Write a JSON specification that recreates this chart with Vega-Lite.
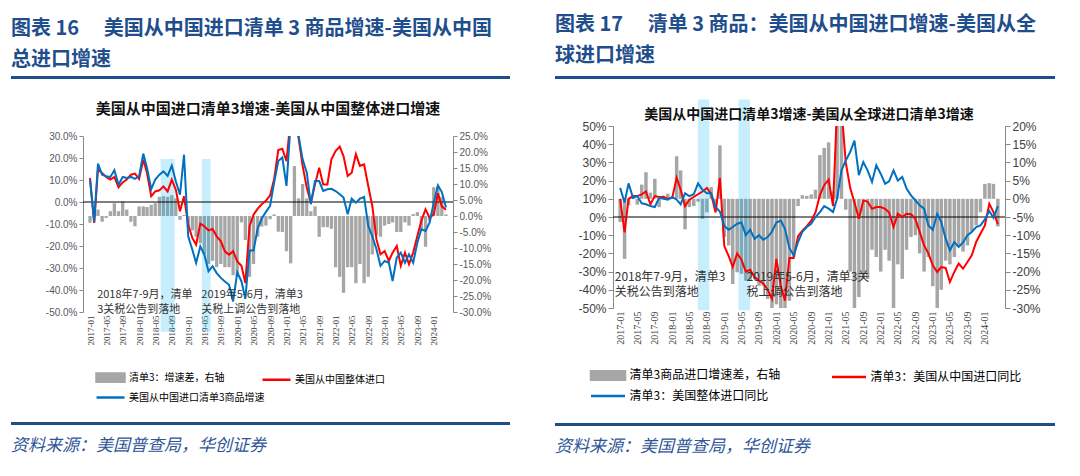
{
"$schema":"https://vega.github.io/schema/vega-lite/v6.json",
"background":"white",
"padding":{"left":11,"top":14,"right":0,"bottom":0},
"config":{"view":{"stroke":null},"font":"Noto Sans CJK SC","axis":{"grid":false,"labelOverlap":false,"labelFlush":false}},
"datasets":{
"L":[
{"month":"2017-01-16","diff":-2.1,"total":10.9,"list3":10.2},
{"month":"2017-02-16","diff":2.5,"total":-9.5,"list3":-9.0},
{"month":"2017-03-16","diff":2.0,"total":14.7,"list3":17.4},
{"month":"2017-04-16","diff":-1.8,"total":13.2,"list3":12.4},
{"month":"2017-05-16","diff":-0.6,"total":11.4,"list3":11.7},
{"month":"2017-06-16","diff":1.5,"total":10.2,"list3":11.4},
{"month":"2017-07-16","diff":4.0,"total":11.4,"list3":14.4},
{"month":"2017-08-16","diff":1.5,"total":6.7,"list3":7.9},
{"month":"2017-09-16","diff":4.5,"total":8.9,"list3":11.4},
{"month":"2017-10-16","diff":2.0,"total":10.2,"list3":10.9},
{"month":"2017-11-16","diff":-1.8,"total":12.4,"list3":11.4},
{"month":"2017-12-16","diff":-3.2,"total":12.9,"list3":10.5},
{"month":"2018-01-16","diff":3.0,"total":10.5,"list3":11.7},
{"month":"2018-02-16","diff":3.0,"total":19.2,"list3":22.0},
{"month":"2018-03-16","diff":2.8,"total":13.2,"list3":15.5},
{"month":"2018-04-16","diff":3.5,"total":2.6,"list3":5.9},
{"month":"2018-05-16","diff":4.0,"total":4.8,"list3":10.2},
{"month":"2018-06-16","diff":6.0,"total":5.3,"list3":12.4},
{"month":"2018-07-16","diff":6.2,"total":7.1,"list3":13.9},
{"month":"2018-08-16","diff":6.0,"total":4.8,"list3":11.9},
{"month":"2018-09-16","diff":6.5,"total":10.2,"list3":16.5},
{"month":"2018-10-16","diff":5.5,"total":5.6,"list3":9.4},
{"month":"2018-11-16","diff":-1.2,"total":-4.2,"list3":3.3},
{"month":"2018-12-16","diff":0.3,"total":2.6,"list3":21.5},
{"month":"2019-01-16","diff":-3.3,"total":-10.3,"list3":-15.6},
{"month":"2019-02-16","diff":-4.5,"total":-16.4,"list3":-21.7},
{"month":"2019-03-16","diff":-6.5,"total":-19.4,"list3":-27.7},
{"month":"2019-04-16","diff":-8.5,"total":-9.8,"list3":-20.2},
{"month":"2019-05-16","diff":-12,"total":-11,"list3":-23.9},
{"month":"2019-06-16","diff":-15,"total":-12.9,"list3":-31.5},
{"month":"2019-07-16","diff":-14,"total":-12.3,"list3":-29.2},
{"month":"2019-08-16","diff":-16,"total":-15.6,"list3":-32.3},
{"month":"2019-09-16","diff":-15,"total":-17.9,"list3":-34.5},
{"month":"2019-10-16","diff":-16,"total":-22.4,"list3":-36.1},
{"month":"2019-11-16","diff":-16,"total":-24,"list3":-37.6},
{"month":"2019-12-16","diff":-18.5,"total":-22.4,"list3":-45.2},
{"month":"2020-01-16","diff":-19,"total":-27,"list3":-32},
{"month":"2020-02-16","diff":-2,"total":-29,"list3":-36},
{"month":"2020-03-16","diff":-7.5,"total":-36.8,"list3":-44},
{"month":"2020-04-16","diff":-19,"total":-11,"list3":-22},
{"month":"2020-05-16","diff":-15,"total":-5.8,"list3":-22},
{"month":"2020-06-16","diff":-6.5,"total":-3,"list3":-12},
{"month":"2020-07-16","diff":-3.3,"total":-1,"list3":-7.5},
{"month":"2020-08-16","diff":-3,"total":0.5,"list3":-4.5},
{"month":"2020-09-16","diff":-1,"total":3,"list3":-1.8},
{"month":"2020-10-16","diff":0.5,"total":10.3,"list3":8.8},
{"month":"2020-11-16","diff":-4.9,"total":23.6,"list3":18.6},
{"month":"2020-12-16","diff":-5,"total":24.2,"list3":20.2},
{"month":"2021-01-16","diff":-11,"total":18.6,"list3":7.3},
{"month":"2021-02-16","diff":-14.8,"total":38,"list3":36},
{"month":"2021-03-16","diff":15.6,"total":40,"list3":40},
{"month":"2021-04-16","diff":5.5,"total":29,"list3":30},
{"month":"2021-05-16","diff":10,"total":16.4,"list3":19.4},
{"month":"2021-06-16","diff":5.5,"total":6.5,"list3":13.3},
{"month":"2021-07-16","diff":1.5,"total":-0.3,"list3":-1},
{"month":"2021-08-16","diff":3,"total":8,"list3":9.5},
{"month":"2021-09-16","diff":-6.5,"total":15.6,"list3":9.5},
{"month":"2021-10-16","diff":-3.5,"total":8,"list3":5},
{"month":"2021-11-16","diff":-3.5,"total":8,"list3":5.8},
{"month":"2021-12-16","diff":-4,"total":19.4,"list3":6},
{"month":"2022-01-16","diff":-16,"total":23.2,"list3":5},
{"month":"2022-02-16","diff":-19,"total":25.2,"list3":3.5},
{"month":"2022-03-16","diff":-24,"total":20.9,"list3":2},
{"month":"2022-04-16","diff":-16,"total":11.8,"list3":-5.6},
{"month":"2022-05-16","diff":-16,"total":13.3,"list3":1.5},
{"month":"2022-06-16","diff":-21,"total":21.7,"list3":-0.3},
{"month":"2022-07-16","diff":-15,"total":16.4,"list3":1.5},
{"month":"2022-08-16","diff":-21,"total":17.1,"list3":2.3},
{"month":"2022-09-16","diff":-19,"total":7.3,"list3":-10.9},
{"month":"2022-10-16","diff":-12,"total":-1.8,"list3":-15.5},
{"month":"2022-11-16","diff":-6,"total":-17,"list3":-21.5},
{"month":"2022-12-16","diff":-6.5,"total":-23.8,"list3":-29},
{"month":"2023-01-16","diff":-3,"total":-22.3,"list3":-26.8},
{"month":"2023-02-16","diff":-2.5,"total":-26.8,"list3":-27.6},
{"month":"2023-03-16","diff":-2,"total":-23,"list3":-35.9},
{"month":"2023-04-16","diff":-5,"total":-20,"list3":-25.3},
{"month":"2023-05-16","diff":-5,"total":-29,"list3":-23},
{"month":"2023-06-16","diff":-2,"total":-23,"list3":-27.6},
{"month":"2023-07-16","diff":-3,"total":-28.3,"list3":-23.8},
{"month":"2023-08-16","diff":0.6,"total":-23,"list3":-27.6},
{"month":"2023-09-16","diff":1.2,"total":-15.5,"list3":-18.5},
{"month":"2023-10-16","diff":-4.5,"total":-8.6,"list3":-12.4},
{"month":"2023-11-16","diff":-9.6,"total":-3.3,"list3":-13.2},
{"month":"2023-12-16","diff":-1.5,"total":-7.1,"list3":-9.4},
{"month":"2024-01-16","diff":9,"total":-5.6,"list3":-0.3},
{"month":"2024-02-16","diff":9.2,"total":4,"list3":7.5},
{"month":"2024-03-16","diff":6,"total":-2,"list3":4.5},
{"month":"2024-04-16","diff":0.5,"total":-3.5,"list3":-2.5}
],
"R":[
{"month":"2017-01-16","diff":-6.4,"china":10,"world":16},
{"month":"2017-02-16","diff":-16.5,"china":-8.5,"world":8},
{"month":"2017-03-16","diff":-1.8,"china":10,"world":18.5},
{"month":"2017-04-16","diff":0.9,"china":11.5,"world":10.5},
{"month":"2017-05-16","diff":-1.6,"china":11.5,"world":11.5},
{"month":"2017-06-16","diff":3.9,"china":12.4,"world":7.5},
{"month":"2017-07-16","diff":7.3,"china":14,"world":7},
{"month":"2017-08-16","diff":1.7,"china":7,"world":6},
{"month":"2017-09-16","diff":5.5,"china":11.5,"world":5.5},
{"month":"2017-10-16","diff":-2.3,"china":11,"world":10.5},
{"month":"2017-11-16","diff":0.9,"china":11,"world":10},
{"month":"2017-12-16","diff":1.4,"china":10,"world":9.5},
{"month":"2018-01-16","diff":0.3,"china":10.5,"world":11},
{"month":"2018-02-16","diff":11.7,"china":21.6,"world":9.5},
{"month":"2018-03-16","diff":7.8,"china":15,"world":7},
{"month":"2018-04-16","diff":-8.4,"china":6,"world":13},
{"month":"2018-05-16","diff":-2.3,"china":9.5,"world":11.5},
{"month":"2018-06-16","diff":-2,"china":11,"world":12.5},
{"month":"2018-07-16","diff":-0.8,"china":12.5,"world":18.5},
{"month":"2018-08-16","diff":-5.5,"china":14,"world":15},
{"month":"2018-09-16","diff":-3.7,"china":16,"world":13},
{"month":"2018-10-16","diff":3.2,"china":12.5,"world":13},
{"month":"2018-11-16","diff":-2.3,"china":2.5,"world":5.5},
{"month":"2018-12-16","diff":14.7,"china":21.5,"world":3},
{"month":"2019-01-16","diff":-10.5,"china":-16,"world":-5},
{"month":"2019-02-16","diff":-12.8,"china":-21.5,"world":-7},
{"month":"2019-03-16","diff":-23.4,"china":-27.5,"world":-5.5},
{"month":"2019-04-16","diff":-20.2,"china":-20,"world":-3.7},
{"month":"2019-05-16","diff":-20.6,"china":-23.5,"world":-3},
{"month":"2019-06-16","diff":-22.5,"china":-30,"world":-10},
{"month":"2019-07-16","diff":-22.5,"china":-29,"world":-7},
{"month":"2019-08-16","diff":-22,"china":-33,"world":-12},
{"month":"2019-09-16","diff":-23.9,"china":-35,"world":-10},
{"month":"2019-10-16","diff":-23.9,"china":-36.5,"world":-12.5},
{"month":"2019-11-16","diff":-27.5,"china":-40,"world":-11},
{"month":"2019-12-16","diff":-31,"china":-45,"world":-8},
{"month":"2020-01-16","diff":-29,"china":-23,"world":-3},
{"month":"2020-02-16","diff":-31,"china":-38,"world":-2},
{"month":"2020-03-16","diff":-31,"china":-46,"world":-6.5},
{"month":"2020-04-16","diff":-28,"china":-22.5,"world":-17},
{"month":"2020-05-16","diff":-16,"china":-22.5,"world":-21},
{"month":"2020-06-16","diff":-2,"china":-10.5,"world":-13.7},
{"month":"2020-07-16","diff":1,"china":-7.5,"world":-8.2},
{"month":"2020-08-16","diff":0.8,"china":-5,"world":-5.5},
{"month":"2020-09-16","diff":1.2,"china":-2,"world":-3.7},
{"month":"2020-10-16","diff":2.5,"china":2.5,"world":0},
{"month":"2020-11-16","diff":12,"china":12,"world":2.7},
{"month":"2020-12-16","diff":14,"china":17.5,"world":6},
{"month":"2021-01-16","diff":15.5,"china":20.5,"world":4.6},
{"month":"2021-02-16","diff":2,"china":6,"world":2.7},
{"month":"2021-03-16","diff":40,"china":60,"world":10},
{"month":"2021-04-16","diff":35,"china":60,"world":25.6},
{"month":"2021-05-16","diff":-3,"china":30,"world":31},
{"month":"2021-06-16","diff":-20,"china":16,"world":35.7},
{"month":"2021-07-16","diff":-34,"china":8,"world":42},
{"month":"2021-08-16","diff":-27,"china":-1,"world":23},
{"month":"2021-09-16","diff":-22,"china":9,"world":30.2},
{"month":"2021-10-16","diff":-22,"china":8.5,"world":25.6},
{"month":"2021-11-16","diff":-14,"china":4.5,"world":19.2},
{"month":"2021-12-16","diff":-16,"china":5.5,"world":28.4},
{"month":"2022-01-16","diff":-20,"china":5.5,"world":23.8},
{"month":"2022-02-16","diff":-14,"china":4.5,"world":18.3},
{"month":"2022-03-16","diff":-17,"china":2.5,"world":19.6},
{"month":"2022-04-16","diff":-31,"china":-5.5,"world":25.6},
{"month":"2022-05-16","diff":-18,"china":1.8,"world":20},
{"month":"2022-06-16","diff":-22,"china":0,"world":22},
{"month":"2022-07-16","diff":-14,"china":1.8,"world":15.6},
{"month":"2022-08-16","diff":-10.5,"china":1.5,"world":11.9},
{"month":"2022-09-16","diff":-10,"china":-1,"world":9.2},
{"month":"2022-10-16","diff":-15,"china":-8.2,"world":6.4},
{"month":"2022-11-16","diff":-20,"china":-15.6,"world":4.6},
{"month":"2022-12-16","diff":-16,"china":-20,"world":-4.6},
{"month":"2023-01-16","diff":-24,"china":-26.6,"world":-7},
{"month":"2023-02-16","diff":-31,"china":-30.2,"world":1.8},
{"month":"2023-03-16","diff":-25,"china":-27.5,"world":-2.7},
{"month":"2023-04-16","diff":-17,"china":-28,"world":-11.9},
{"month":"2023-05-16","diff":-18,"china":-35.7,"world":-18.3},
{"month":"2023-06-16","diff":-16,"china":-30.2,"world":-13.7},
{"month":"2023-07-16","diff":-13,"china":-25.6,"world":-16.5},
{"month":"2023-08-16","diff":-14.5,"china":-28.4,"world":-14},
{"month":"2023-09-16","diff":-12.8,"china":-24.7,"world":-10},
{"month":"2023-10-16","diff":-9,"china":-21,"world":-8.2},
{"month":"2023-11-16","diff":-7.3,"china":-13.7,"world":-5.5},
{"month":"2023-12-16","diff":-3.7,"china":-9.2,"world":-4.6},
{"month":"2024-01-16","diff":4.1,"china":-4.6,"world":-1.3},
{"month":"2024-02-16","diff":4.3,"china":7.3,"world":3.3},
{"month":"2024-03-16","diff":4.1,"china":2.7,"world":-0.4},
{"month":"2024-04-16","diff":-7.6,"china":-4,"world":6}
],
"bandsL":[{"start":"2018-06-25","end":"2018-10-08","top":19.5,"bottom":-59},{"start":"2019-04-28","end":"2019-07-02","top":19.5,"bottom":-59}],
"bandsR":[{"start":"2018-07-15","end":"2018-10-03","top":64.6,"bottom":-51.3},{"start":"2019-04-25","end":"2019-07-15","top":64.6,"bottom":-51.3}],
"annL":[{"pos":"2017-03-10","level":-42.1,"label":"2018年7-9月，清单"},{"pos":"2017-03-10","level":-49,"label":"3关税公告到落地"},{"pos":"2019-04-24","level":-42.1,"label":"2019年5-6月，清单3"},{"pos":"2019-04-24","level":-49,"label":"关税上调公告到落地"}],
"annR":[{"pos":"2016-12-09","level":-33,"label":"2018年7-9月，清单3"},{"pos":"2016-12-09","level":-41.2,"label":"关税公告到落地"},{"pos":"2019-06-21","level":-33,"label":"2019年5-6月，清单3关"},{"pos":"2019-06-21","level":-41.2,"label":"税上调公告到落地"}]
},
"hconcat":[
{
"vconcat":[
{"width":499,"height":12,"view":{"stroke":null,"fill":{"gradient":"linear","x1":0,"y1":0,"x2":0,"y2":1,"stops":[{"offset":0,"color":"#1f4e8c"},{"offset":0.25,"color":"#1f4e8c"},{"offset":0.251,"color":"#ffffff"},{"offset":1,"color":"#ffffff"}]}},"data":{"values":[{}]},"mark":{"type":"text"},"encoding":{"text":{"value":""}},
 "title":{"text":["图表 16　 美国从中国进口清单 3 商品增速-美国从中国","总进口增速"],"anchor":"start","font":"Noto Sans CJK SC","fontSize":20,"fontWeight":"bold","color":"#1f4e8c","lineHeight":31,"offset":6}},
{"hconcat":[
{"width":20,"height":1,"data":{"values":[{}]},"mark":{"type":"text"},"encoding":{"text":{"value":""}}},
{"width":370,"height":176,
 "title":{"text":"美国从中国进口清单3增速-美国从中国整体进口增速","frame":"group","anchor":"middle","font":"Noto Sans CJK SC","fontSize":15,"fontWeight":"bold","color":"#111111","offset":14},
 "data":{"name":"L"},
 "layer":[
  {"mark":{"type":"bar","width":3.3,"clip":true},
   "encoding":{
    "x":{"field":"month","type":"temporal","scale":{"type":"utc","domain":[{"year":2017,"month":1,"date":1,"utc":true},{"year":2024,"month":5,"date":1,"utc":true}]},
     "axis":{"title":null,"format":"%Y-%m","labelAngle":270,"labelFont":"Liberation Serif","labelFontSize":9,"labelColor":"#404040","ticks":false,"domain":false,"labelPadding":3,"labelFlush":false,"labelOverlap":false,"labelBound":false,
     "values":[{"year":2017,"month":1,"date":16,"utc":true},{"year":2017,"month":5,"date":16,"utc":true},{"year":2017,"month":9,"date":16,"utc":true},{"year":2018,"month":1,"date":16,"utc":true},{"year":2018,"month":5,"date":16,"utc":true},{"year":2018,"month":9,"date":16,"utc":true},{"year":2019,"month":1,"date":16,"utc":true},{"year":2019,"month":5,"date":16,"utc":true},{"year":2019,"month":9,"date":16,"utc":true},{"year":2020,"month":1,"date":16,"utc":true},{"year":2020,"month":5,"date":16,"utc":true},{"year":2020,"month":9,"date":16,"utc":true},{"year":2021,"month":1,"date":16,"utc":true},{"year":2021,"month":5,"date":16,"utc":true},{"year":2021,"month":9,"date":16,"utc":true},{"year":2022,"month":1,"date":16,"utc":true},{"year":2022,"month":5,"date":16,"utc":true},{"year":2022,"month":9,"date":16,"utc":true},{"year":2023,"month":1,"date":16,"utc":true},{"year":2023,"month":5,"date":16,"utc":true},{"year":2023,"month":9,"date":16,"utc":true},{"year":2024,"month":1,"date":16,"utc":true}]}},
    "y":{"field":"diff","type":"quantitative","scale":{"domain":[-30,25],"nice":false},
      "axis":{"title":null,"orient":"right","values":[-30,-25,-20,-15,-10,-5,0,5,10,15,20,25],"labelExpr":"(datum.value < 0 ? '-' : '') + format(abs(datum.value), '.1f') + '%'","labelFont":"Liberation Sans","labelFontSize":10,"labelColor":"#595959","domainColor":"#898989","tickColor":"#898989","tickSize":4,"labelPadding":2,"labelOverlap":false}},
    "color":{"datum":"清单3：增速差，右轴","scale":{"domain":["清单3：增速差，右轴","美国从中国整体进口","美国从中国进口清单3商品增速"],"range":["#a6a6a6","#ff0000","#0070c0"]},
      "legend":{"title":null,"orient":"none","direction":"horizontal","legendX":19,"legendY":233,"padding":0,"columns":2,"columnPadding":-8,"rowPadding":2,"symbolType":"stroke","symbolSize":196,"symbolStrokeWidth":2.5,"labelFont":"Noto Sans CJK SC","labelFontSize":10,"labelColor":"#000000","labelOffset":10,"labelLimit":300,
       "encode":{"symbols":{"update":{
         "shape":{"signal":"datum.value === '清单3：增速差，右轴' ? 'M-2,-0.6H2V0.6H-2Z' : 'M-2,0H2'"},
         "fill":{"signal":"datum.value === '清单3：增速差，右轴' ? '#a6a6a6' : 'transparent'"},
         "stroke":{"signal":"datum.value === '清单3：增速差，右轴' ? 'transparent' : (datum.value === '美国从中国整体进口' ? '#ff0000' : '#0070c0')"},
         "strokeWidth":{"value":2.5},"opacity":{"value":1}}}}}}}},
  {"layer":[
   {"data":{"name":"bandsL"},"mark":{"type":"rect","color":"#00b0f0","opacity":0.22},
    "encoding":{"x":{"field":"start","type":"temporal","axis":null},"x2":{"field":"end"},
     "y":{"field":"top","type":"quantitative","scale":{"domain":[-50,30],"nice":false},"axis":null},"y2":{"field":"bottom"}}},
   {"data":{"values":[{}]},"mark":{"type":"rule","color":"#000000","strokeWidth":1},
    "encoding":{"y":{"datum":0,"type":"quantitative","axis":null}}},
   {"mark":{"type":"line","strokeWidth":2,"clip":true},
    "encoding":{"x":{"field":"month","type":"temporal","axis":null},
     "y":{"field":"total","type":"quantitative","scale":{"domain":[-50,30],"nice":false},
      "axis":{"title":null,"orient":"left","values":[-50,-40,-30,-20,-10,0,10,20,30],"labelExpr":"(datum.value < 0 ? '-' : '') + format(abs(datum.value), '.1f') + '%'","labelFont":"Liberation Sans","labelFontSize":10,"labelColor":"#595959","domainColor":"#898989","tickColor":"#898989","tickSize":4,"labelPadding":2,"minExtent":52,"labelOverlap":false}},
     "color":{"datum":"美国从中国整体进口"}}},
   {"mark":{"type":"line","strokeWidth":2,"clip":true},
    "encoding":{"x":{"field":"month","type":"temporal","axis":null},"y":{"field":"list3","type":"quantitative","axis":null},
     "color":{"datum":"美国从中国进口清单3商品增速"}}},
   {"data":{"name":"annL"},"mark":{"type":"text","align":"left","baseline":"middle","font":"Noto Sans CJK SC","fontSize":11,"color":"#333333"},
    "encoding":{"x":{"field":"pos","type":"temporal","axis":null},"y":{"field":"level","type":"quantitative","axis":null},"text":{"field":"label"}}}
  ],
  "resolve":{"axis":{"x":"independent","y":"independent"}}}
 ],
 "resolve":{"scale":{"y":"independent"},"axis":{"x":"independent","y":"independent"}}
}],"spacing":0,"resolve":{"scale":{"color":"independent"},"legend":{"color":"independent"}}},
{"width":499,"height":3,"view":{"fill":"#1f4e8c","stroke":null},"data":{"values":[{}]},"mark":{"type":"text"},"encoding":{"text":{"value":""}},
 "title":{"text":"资料来源：美国普查局，华创证券","orient":"bottom","anchor":"start","font":"Noto Sans CJK SC","fontSize":17,"fontStyle":"italic","fontWeight":"normal","color":"#2f5597","offset":9}}
],
"spacing":14,
"resolve":{"scale":{"color":"independent"},"legend":{"color":"independent"}}
},
{
"vconcat":[
{"width":500,"height":3,"view":{"fill":"#1f4e8c","stroke":null},"data":{"values":[{}]},"mark":{"type":"text"},"encoding":{"text":{"value":""}},
 "title":{"text":["图表 17　 清单 3 商品：美国从中国进口增速-美国从全","球进口增速"],"anchor":"start","font":"Noto Sans CJK SC","fontSize":20,"fontWeight":"bold","color":"#1f4e8c","lineHeight":31,"offset":6}},
{"hconcat":[
{"width":20,"height":1,"data":{"values":[{}]},"mark":{"type":"text"},"encoding":{"text":{"value":""}}},
{"width":392,"height":182,
 "title":{"text":"美国从中国进口清单3增速-美国从全球进口清单3增速","frame":"group","anchor":"middle","font":"Noto Sans CJK SC","fontSize":14,"fontWeight":"bold","color":"#111111","offset":-23},
 "data":{"name":"R"},
 "layer":[
  {"mark":{"type":"bar","width":3.5,"clip":true},
   "encoding":{
    "x":{"field":"month","type":"temporal","scale":{"type":"utc","domain":[{"year":2017,"month":1,"date":1,"utc":true},{"year":2024,"month":5,"date":1,"utc":true}]},
     "axis":{"title":null,"format":"%Y-%m","labelAngle":270,"labelFont":"Liberation Serif","labelFontSize":10,"labelColor":"#404040","ticks":false,"domain":false,"labelPadding":3,"labelFlush":false,"labelOverlap":false,"labelBound":false,
     "values":[{"year":2017,"month":1,"date":16,"utc":true},{"year":2017,"month":5,"date":16,"utc":true},{"year":2017,"month":9,"date":16,"utc":true},{"year":2018,"month":1,"date":16,"utc":true},{"year":2018,"month":5,"date":16,"utc":true},{"year":2018,"month":9,"date":16,"utc":true},{"year":2019,"month":1,"date":16,"utc":true},{"year":2019,"month":5,"date":16,"utc":true},{"year":2019,"month":9,"date":16,"utc":true},{"year":2020,"month":1,"date":16,"utc":true},{"year":2020,"month":5,"date":16,"utc":true},{"year":2020,"month":9,"date":16,"utc":true},{"year":2021,"month":1,"date":16,"utc":true},{"year":2021,"month":5,"date":16,"utc":true},{"year":2021,"month":9,"date":16,"utc":true},{"year":2022,"month":1,"date":16,"utc":true},{"year":2022,"month":5,"date":16,"utc":true},{"year":2022,"month":9,"date":16,"utc":true},{"year":2023,"month":1,"date":16,"utc":true},{"year":2023,"month":5,"date":16,"utc":true},{"year":2023,"month":9,"date":16,"utc":true},{"year":2024,"month":1,"date":16,"utc":true}]}},
    "y":{"field":"diff","type":"quantitative","scale":{"domain":[-30,20],"nice":false},
      "axis":{"title":null,"orient":"right","values":[-30,-25,-20,-15,-10,-5,0,5,10,15,20],"labelExpr":"(datum.value < 0 ? '-' : '') + abs(datum.value) + '%'","labelFont":"Liberation Sans","labelFontSize":12,"labelColor":"#404040","domainColor":"#898989","tickColor":"#898989","tickSize":5,"labelPadding":2,"labelOverlap":false}},
    "color":{"datum":"清单3商品进口增速差，右轴","scale":{"domain":["清单3商品进口增速差，右轴","清单3：美国从中国进口同比","清单3：美国整体进口同比"],"range":["#a6a6a6","#ff0000","#0070c0"]},
      "legend":{"title":null,"orient":"none","direction":"horizontal","legendX":-15,"legendY":239,"padding":0,"columns":2,"columnPadding":46,"rowPadding":1,"symbolType":"stroke","symbolSize":289,"symbolStrokeWidth":2.5,"labelFont":"Noto Sans CJK SC","labelFontSize":12,"labelColor":"#000000","labelOffset":11.5,"labelLimit":300,
       "encode":{"symbols":{"update":{
         "shape":{"signal":"datum.value === '清单3商品进口增速差，右轴' ? 'M-2,-0.5H2V0.5H-2Z' : 'M-2,0H2'"},
         "fill":{"signal":"datum.value === '清单3商品进口增速差，右轴' ? '#a6a6a6' : 'transparent'"},
         "stroke":{"signal":"datum.value === '清单3商品进口增速差，右轴' ? 'transparent' : (datum.value === '清单3：美国从中国进口同比' ? '#ff0000' : '#0070c0')"},
         "strokeWidth":{"value":2.5},"opacity":{"value":1}}}}}}}},
  {"layer":[
   {"data":{"name":"bandsR"},"mark":{"type":"rect","color":"#00b0f0","opacity":0.22},
    "encoding":{"x":{"field":"start","type":"temporal","axis":null},"x2":{"field":"end"},
     "y":{"field":"top","type":"quantitative","scale":{"domain":[-50,50],"nice":false},"axis":null},"y2":{"field":"bottom"}}},
   {"data":{"values":[{}]},"mark":{"type":"rule","color":"#000000","strokeWidth":1},
    "encoding":{"y":{"datum":0,"type":"quantitative","axis":null}}},
   {"mark":{"type":"line","strokeWidth":2,"clip":true},
    "encoding":{"x":{"field":"month","type":"temporal","axis":null},
     "y":{"field":"china","type":"quantitative","scale":{"domain":[-50,50],"nice":false},
      "axis":{"title":null,"orient":"left","values":[-50,-40,-30,-20,-10,0,10,20,30,40,50],"labelExpr":"(datum.value < 0 ? '-' : '') + abs(datum.value) + '%'","labelFont":"Liberation Sans","labelFontSize":12,"labelColor":"#404040","domainColor":"#898989","tickColor":"#898989","tickSize":5,"labelPadding":2,"minExtent":38,"labelOverlap":false}},
     "color":{"datum":"清单3：美国从中国进口同比"}}},
   {"mark":{"type":"line","strokeWidth":2,"clip":true},
    "encoding":{"x":{"field":"month","type":"temporal","axis":null},"y":{"field":"world","type":"quantitative","axis":null},
     "color":{"datum":"清单3：美国整体进口同比"}}},
   {"data":{"name":"annR"},"mark":{"type":"text","align":"left","baseline":"middle","font":"Noto Sans CJK SC","fontSize":12,"color":"#333333"},
    "encoding":{"x":{"field":"pos","type":"temporal","axis":null},"y":{"field":"level","type":"quantitative","axis":null},"text":{"field":"label"}}}
  ],
  "resolve":{"axis":{"x":"independent","y":"independent"}}}
 ],
 "resolve":{"scale":{"y":"independent"},"axis":{"x":"independent","y":"independent"}}
}],"spacing":0,"resolve":{"scale":{"color":"independent"},"legend":{"color":"independent"}}},
{"width":500,"height":3,"view":{"fill":"#1f4e8c","stroke":null},"data":{"values":[{}]},"mark":{"type":"text"},"encoding":{"text":{"value":""}},
 "title":{"text":"资料来源：美国普查局，华创证券","orient":"bottom","anchor":"start","font":"Noto Sans CJK SC","fontSize":17,"fontStyle":"italic","fontWeight":"normal","color":"#2f5597","offset":9}}
],
"spacing":16,
"resolve":{"scale":{"color":"independent"},"legend":{"color":"independent"}}
}
],
"spacing":45,
"resolve":{"scale":{"color":"independent","x":"independent","y":"independent"},"legend":{"color":"independent"}}
}
